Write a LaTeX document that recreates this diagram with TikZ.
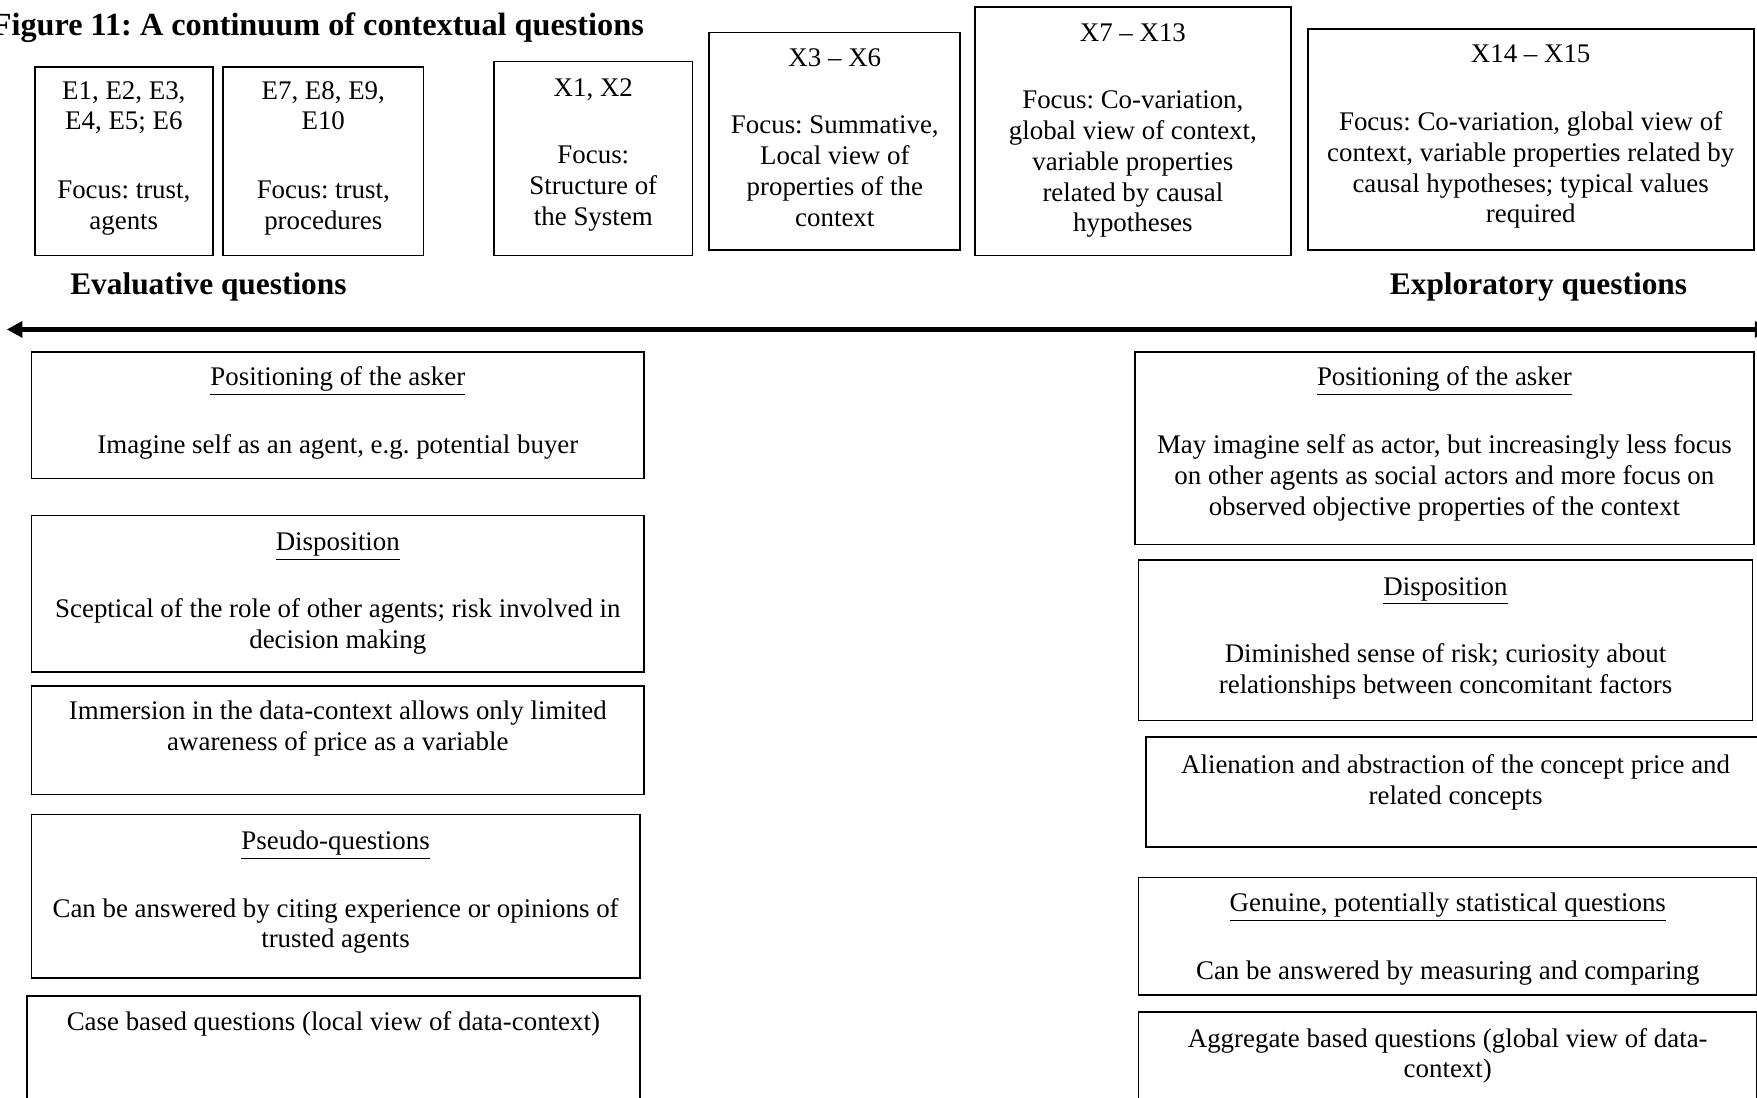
\documentclass[tikz,border=0pt]{standalone}
\usepackage{fontspec}
\setmainfont{Liberation Serif}
\frenchspacing
\usetikzlibrary{arrows.meta,fit}
\begin{document}
\begin{tikzpicture}[x=0.5pt,y=-0.5pt,
  box/.style={draw, line width=0.75pt, inner sep=0pt},
  % multi-line texts are placed by the baseline of their last line
  txt/.style={align=center, inner sep=0pt, anchor=base, font=\fontsize{12}{13.75}\selectfont},
  head/.style={inner sep=0pt, anchor=base, font=\fontsize{14}{16}\selectfont\bfseries},
  axis/.style={line width=2.2pt, {Triangle[length=7pt,width=7pt]}-{Triangle[length=7pt,width=7pt]}}]
\clip (0,0) rectangle (1568,979);

% title
\node[head, anchor=base east, font=\fontsize{14.4}{16}\selectfont\bfseries] (title) at (575,32) {Figure 11: A continuum of contextual questions};

% question groups along the top
\node[box, fit={(31,60) (190,228)}] (e1) {};
\node[txt] (e1a) at (110.5,116) {E1, E2, E3,\\E4, E5; E6};
\node[txt] (e1b) at (110.5,205) {Focus: trust,\\agents};

\node[box, fit={(199,60) (378,228)}] (e7) {};
\node[txt] (e7a) at (288.5,116) {E7, E8, E9,\\E10};
\node[txt] (e7b) at (288.5,205) {Focus: trust,\\procedures};

\node[box, fit={(441,55) (618,228)}] (x1) {};
\node[txt] (x1a) at (529.5,86) {X1, X2};
\node[txt] (x1b) at (529.5,201) {Focus:\\Structure of\\the System};

\node[box, fit={(633,29) (857,223)}] (x3) {};
\node[txt] (x3a) at (745,59) {X3 – X6};
\node[txt] (x3b) at (745,202) {Focus: Summative,\\Local view of\\properties of the\\context};

\node[box, fit={(870,6) (1152,228)}] (x7) {};
\node[txt] (x7a) at (1011,37) {X7 – X13};
\node[txt] (x7b) at (1011,207) {Focus: Co-variation,\\global view of context,\\variable properties\\related by causal\\hypotheses};

\node[box, fit={(1167,26) (1565,223)}] (x14) {};
\node[txt] (x14a) at (1366,56) {X14 – X15};
\node[txt] (x14b) at (1366,199) {Focus: Co-variation, global view of\\context, variable properties related by\\causal hypotheses; typical values\\required};

% ends of the continuum
\node[head] (evq) at (186,263) {Evaluative questions};
\node[head] (exq) at (1373,263) {Exploratory questions};

\coordinate (axisL) at (6,294);
\coordinate (axisR) at (1580,294);
\draw[axis] (axisL) -- (axisR);

% evaluative side
\node[box, fit={(28,314) (575,427)}] (l1) {};
\node[txt] (l1a) at (301.5,344) {\underline{Positioning of the asker}};
\node[txt] (l1b) at (301.5,405) {Imagine self as an agent, e.g. potential buyer};

\node[box, fit={(28,460) (575,600)}] (l2) {};
\node[txt] (l2a) at (301.5,491) {\underline{Disposition}};
\node[txt] (l2b) at (301.5,579) {Sceptical of the role of other agents; risk involved in\\decision making};

\node[box, fit={(28,612) (575,709)}] (l3) {};
\node[txt] (l3a) at (301.5,670) {Immersion in the data-context allows only limited\\awareness of price as a variable};

\node[box, fit={(28,727) (571,873)}] (l4) {};
\node[txt] (l4a) at (299.5,758) {\underline{Pseudo-questions}};
\node[txt] (l4b) at (299.5,846) {Can be answered by citing experience or opinions of\\trusted agents};

\node[box, fit={(24,889) (571,1000)}] (l5) {};
\node[txt] (l5a) at (297.5,920) {Case based questions (local view of data-context)};

% exploratory side
\node[box, fit={(1013,314) (1565,486)}] (r1) {};
\node[txt] (r1a) at (1289,344) {\underline{Positioning of the asker}};
\node[txt] (r1b) at (1289,460) {May imagine self as actor, but increasingly less focus\\on other agents as social actors and more focus on\\observed objective properties of the context};

\node[box, fit={(1016,500) (1564,643)}] (r2) {};
\node[txt] (r2a) at (1290,531) {\underline{Disposition}};
\node[txt] (r2b) at (1290,619) {Diminished sense of risk; curiosity about\\relationships between concomitant factors};

\node[box, fit={(1023,658) (1575,756)}] (r3) {};
\node[txt] (r3a) at (1299,718) {Alienation and abstraction of the concept price and\\related concepts};

\node[box, fit={(1016,783) (1568,888)}] (r4) {};
\node[txt] (r4a) at (1292,813) {\underline{Genuine, potentially statistical questions}};
\node[txt] (r4b) at (1292,874) {Can be answered by measuring and comparing};

\node[box, fit={(1016,903) (1568,1000)}] (r5) {};
\node[txt] (r5a) at (1292,962) {Aggregate based questions (global view of data-\\context)};
\end{tikzpicture}
\end{document}
